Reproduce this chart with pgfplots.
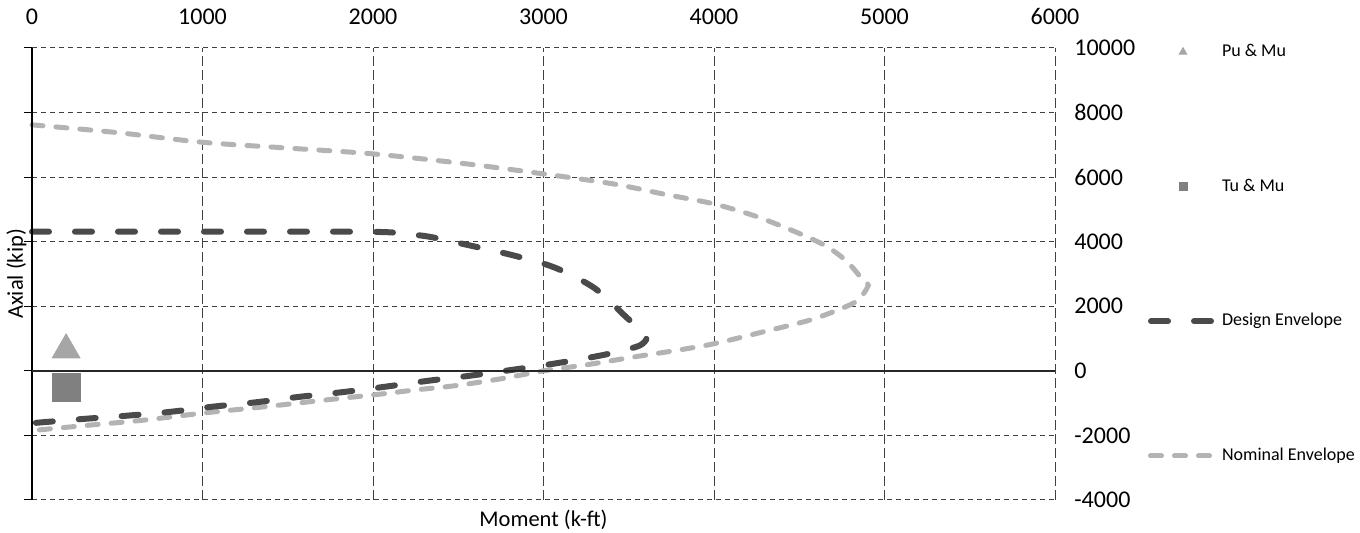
\documentclass[border=0pt]{standalone}
\usepackage{fontspec}
\setmainfont{Carlito}
\usepackage{pgfplots}
\pgfplotsset{compat=1.18}
\definecolor{nomc}{HTML}{B3B3B3}
\definecolor{desc}{HTML}{4A4A4A}
\definecolor{tric}{HTML}{A6A6A6}
\definecolor{sqc}{HTML}{808080}
\pgfplotsset{
  nomimg/.style={legend image code/.code={\path (0pt,0pt) (35pt,0pt); \draw[##1] (1.25pt,0pt) -- (33.75pt,0pt);}},
  desimg/.style={legend image code/.code={\path (0pt,0pt) (35pt,0pt); \draw[##1] (1.5pt,0pt) -- (33.5pt,0pt);}},
  sqimg/.style={legend image code/.code={\path (0pt,0pt) (35pt,0pt); \draw[##1, mark size=2pt] plot coordinates {(17.5pt,0pt)};}},
  triimg/.style={legend image code/.code={\path (0pt,0pt) (35pt,0pt); \draw[##1, mark size=2.2pt] plot coordinates {(17.5pt,0pt)};}},
}
\begin{document}
\begin{tikzpicture}
\useasboundingbox (-16pt,-16.5pt) rectangle (664pt,250pt);
\begin{axis}[
  at={(0,0)}, anchor=south west,
  scale only axis, width=511.5pt, height=226pt,
  xmin=0, xmax=6000, ymin=-4000, ymax=10000,
  xtick={0,1000,...,6000}, ytick={-4000,-2000,...,10000},
  scaled ticks=false,
  /pgf/number format/fixed,
  /pgf/number format/1000 sep={},
  /pgf/number format/assume math mode=true,
  axis line style={draw=none},
  clip=false,
  yticklabel pos=right, xticklabel pos=right,
  major tick length=0pt,
  ticklabel style={font=\fontsize{12}{14}\selectfont},
  xticklabel style={anchor=south, inner sep=0pt, yshift=11.5pt},
  yticklabel style={anchor=west, inner sep=0pt, xshift=9.5pt},
  grid=major,
  x grid style={dash pattern=on 5pt off 2pt, line width=0.5pt, black!75},
  y grid style={dash pattern=on 2.5pt off 2pt, line width=0.5pt, black!75},
  xlabel={Moment (k-ft)}, ylabel={Axial (kip)},
  label style={font=\fontsize{11.25}{13}\selectfont},
  x label style={at={(axis description cs:0.5,-0.0221)}, anchor=north, inner sep=0pt},
  y label style={at={(axis description cs:-0.01515,0.5)}, anchor=center, inner sep=0pt},
  legend style={draw=none, fill=none, inner sep=0pt, outer sep=0pt,
    at={(rel axis cs:1,1)}, anchor=north west, xshift=45pt, yshift=2.25pt,
    row sep=58.8pt, column sep=0.5pt, font=\fontsize{9}{11}\selectfont,
    nodes={inner sep=0pt, text height=6.5pt, text depth=2pt}},
  legend cell align=left,
  reverse legend,
]
\addplot[nomc, line width=2.5pt, line cap=round, dash pattern=on 5.5pt off 6.5pt, smooth, tension=0.5, nomimg]
coordinates {
(0,7620) (500,7380) (1000,7080) (1500,6900) (2000,6720) (2550,6410) (3000,6100)
(3410,5790) (3700,5480) (4000,5170) (4255,4770) (4507,4240) (4665,3840) (4783,3370)
(4877,2790) (4905,2650) (4840,2170) (4700,1830) (4548,1550) (4313,1240) (4000,840)
(3763,620) (3530,430) (3255,190) (3000,0) (2746,-250) (2482,-460) (2250,-590)
(2060,-710) (1700,-915) (1350,-1120) (1000,-1310) (650,-1530) (300,-1700) (0,-1850)
};
\addplot[desc, line width=3pt, line cap=round, dash pattern=on 8.5pt off 13pt, smooth, tension=0.5, desimg]
coordinates {
(0,4310) (1000,4310) (2000,4305) (2200,4230) (2335,4150) (2580,3870) (2835,3560)
(3070,3190) (3300,2560) (3480,1690) (3570,1250) (3605,1020) (3570,800) (3480,650)
(3330,470) (3070,230) (2815,30) (2570,-150) (2320,-310) (2060,-500) (1820,-660)
(1560,-810) (1320,-970) (1060,-1110) (810,-1270) (555,-1390) (300,-1490) (0,-1620)
};
\addplot[only marks, mark=square*, mark size=7pt, color=sqc, sqimg]
coordinates {(200,-500)};
\addplot[only marks, mark=triangle*, mark size=8pt, color=tric, triimg]
coordinates {(200,650)};
\legend{Nominal Envelope, Design Envelope, Tu \& Mu, Pu \& Mu}
\draw[black, line width=0.8pt] (axis cs:0,-4000) -- (axis cs:0,10000);
\draw[black!85, line width=0.9pt] (axis cs:0,0) -- (axis cs:6000,0);
\pgfplotsinvokeforeach{-4000,-2000,0,2000,4000,6000,8000,10000}{
  \draw[black, line width=0.5pt] (axis cs:0,#1) -- ++(-4pt,0pt);
}
\end{axis}
\end{tikzpicture}
\end{document}
